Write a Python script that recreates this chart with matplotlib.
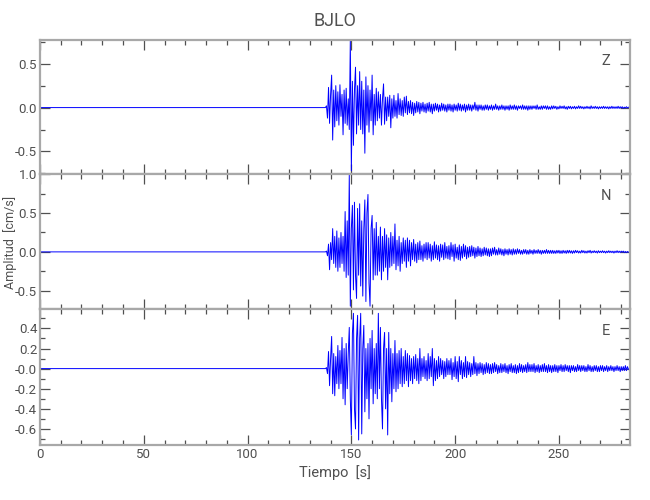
import numpy as np
import matplotlib
matplotlib.use('Agg')
import matplotlib.pyplot as plt
from matplotlib.ticker import MultipleLocator

plt.rcParams['font.family'] = ['Roboto', 'DejaVu Sans']

# station / components
station = 'BJLO'
components = ['Z', 'N', 'E']

# traces: flat until t0, then one value every dt seconds
t0 = 137.0
dt = 0.5
t_end = 284.0

z_amp = [
    0, 0, 0.02, -0.12, 0.23, -0.18, 0.15, 0.37, -0.37, 0.2, -0.22, 0.25, -0.15, 0.18, -0.2, 0.26, -0.1, 0.15, -0.31, 0.2,
    -0.18, 0.22, -0.2, 0.1, -0.25, 0.77, -0.72, 0.3, -0.43, 0.2, 0.46, -0.3, 0.25, -0.2, 0.41, -0.25, 0.3, -0.3, 0.2, -0.52,
    0.35, -0.2, 0.25, -0.28, 0.2, -0.15, 0.37, -0.31, 0.15, -0.2, 0.22, -0.15, 0.18, -0.12, 0.15, -0.2, 0.1, 0.27, -0.19, 0.12,
    -0.15, 0.12, -0.1, 0.14, -0.23, 0.1, -0.12, 0.14, -0.1, 0.08, -0.12, 0.16, -0.08, 0.1, -0.09, 0.08, -0.1, 0.12, -0.06, 0.13,
    -0.08, 0.07, -0.06, 0.08, -0.07, 0.06, -0.09, 0.05, -0.06, 0.07, -0.05, 0.06, -0.07, 0.05, -0.04, 0.06, -0.05, 0.04, -0.06, 0.05,
    -0.04, 0.06, -0.05, 0.04, -0.07, 0.04, -0.04, 0.05, -0.03, 0.04, -0.05, 0.03, -0.04, 0.05, -0.03, 0.04, -0.04, 0.03, -0.05, 0.04,
    -0.03, 0.04, -0.04, 0.03, -0.05, 0.04, -0.03, 0.03, -0.04, 0.05, -0.03, 0.04, -0.04, 0.03, -0.03, 0.04, -0.05, 0.03, -0.03, 0.04,
    -0.03, 0.03, -0.04, 0.03, -0.02, 0.06, -0.03, 0.03, -0.04, 0.03, -0.02, 0.03, -0.03, 0.02, -0.03, 0.03, -0.02, 0.03, -0.03, 0.02,
    -0.02, 0.03, -0.03, 0.02, -0.02, 0.04, -0.02, 0.02, -0.03, 0.02, -0.02, 0.03, -0.02, 0.02, -0.03, 0.02, -0.02, 0.02, -0.03, 0.03,
    -0.02, 0.02, -0.02, 0.03, -0.02, 0.02, -0.03, 0.02, -0.01, 0.02, -0.02, 0.03, -0.02, 0.02, -0.02, 0.02, -0.03, 0.02, -0.02, 0.02,
    -0.02, 0.02, -0.01, 0.02, -0.02, 0.03, -0.02, 0.01, -0.02, 0.02, -0.02, 0.02, -0.01, 0.02, -0.02, 0.02, -0.02, 0.01, -0.02, 0.02,
    -0.015, 0.02, -0.01, 0.015, -0.02, 0.01, -0.015, 0.02, -0.01, 0.015, -0.01, 0.02, -0.015, 0.01, -0.02, 0.015, -0.01, 0.015, -0.015, 0.01,
    -0.01, 0.015, -0.015, 0.01, -0.01, 0.02, -0.01, 0.015, -0.01, 0.01, -0.015, 0.01, -0.01, 0.015, -0.01, 0.01, -0.015, 0.02, -0.01, 0.01,
    -0.01, 0.015, -0.01, 0.01, -0.015, 0.01, -0.01, 0.01, -0.01, 0.015, -0.01, 0.01, -0.01, 0.01, -0.015, 0.01, -0.01, 0.015, -0.01, 0.01,
    -0.01, 0.01, -0.01, 0.015, -0.01, 0.01, -0.005, 0.01, -0.01, 0.005, -0.005, 0.01, -0.005, 0.005, 0,
]

n_amp = [
    0, 0, 0.01, -0.05, 0.1, -0.23, 0.12, -0.1, 0.3, -0.15, 0.2, -0.2, 0.27, -0.25, 0.18, -0.2, 0.25, -0.15, 0.2, -0.25,
    0.52, -0.33, 0.4, -0.3, 0.99, -0.70, 0.3, 0.6, -0.49, 0.64, -0.3, -0.6, 0.56, -0.3, 0.62, -0.44, 0.4, -0.57, 0.3, 0.67,
    -0.64, 0.5, 0.74, -0.4, -0.70, 0.3, 0.47, -0.36, 0.3, -0.3, 0.38, -0.3, 0.2, -0.25, 0.32, -0.36, 0.2, -0.25, 0.3, -0.2,
    0.22, -0.36, 0.18, -0.2, 0.25, -0.18, 0.2, -0.15, 0.36, -0.23, 0.15, -0.18, 0.2, -0.25, 0.12, -0.15, 0.18, -0.12, 0.15, -0.2,
    0.18, -0.12, 0.15, -0.18, 0.12, -0.1, 0.16, -0.12, 0.1, -0.14, 0.12, -0.1, 0.14, -0.1, 0.08, -0.12, 0.1, -0.08, 0.12, -0.1,
    0.12, -0.08, 0.1, -0.12, 0.08, -0.1, 0.13, -0.08, 0.09, -0.1, 0.08, -0.12, 0.1, -0.07, 0.09, -0.1, 0.12, -0.08, 0.07, -0.09,
    0.08, -0.1, 0.12, -0.06, 0.09, -0.12, 0.1, -0.08, 0.06, -0.1, 0.09, -0.11, 0.07, -0.08, 0.1, -0.06, 0.08, -0.09, 0.06, -0.07,
    0.07, -0.06, 0.08, -0.05, 0.06, -0.08, 0.05, -0.06, 0.07, -0.05, 0.05, -0.06, 0.04, -0.05, 0.06, -0.04, 0.05, -0.05, 0.04, -0.06,
    0.04, -0.05, 0.05, -0.03, 0.06, -0.04, 0.03, -0.04, 0.05, -0.03, 0.04, -0.04, 0.03, -0.05, 0.04, -0.03, 0.03, -0.04, 0.04, -0.03,
    0.03, -0.04, 0.04, -0.03, 0.03, -0.03, 0.04, -0.02, 0.03, -0.03, 0.02, -0.03, 0.03, -0.02, 0.03, -0.03, 0.02, -0.03, 0.03, -0.02,
    0.02, -0.03, 0.03, -0.02, 0.02, -0.02, 0.03, -0.02, 0.02, -0.03, 0.02, -0.02, 0.02, -0.02, 0.03, -0.02, 0.02, -0.02, 0.02, -0.02,
    0.02, -0.02, 0.015, -0.02, 0.02, -0.015, 0.02, -0.02, 0.015, -0.02, 0.02, -0.015, 0.015, -0.02, 0.02, -0.015, 0.02, -0.015, 0.015, -0.02,
    0.015, -0.015, 0.02, -0.01, 0.015, -0.015, 0.01, -0.015, 0.02, -0.01, 0.015, -0.015, 0.01, -0.015, 0.015, -0.01, 0.02, -0.015, 0.01, -0.01,
    0.015, -0.01, 0.01, -0.015, 0.015, -0.01, 0.01, -0.01, 0.015, -0.01, 0.01, -0.015, 0.01, -0.01, 0.015, -0.01, 0.01, -0.01, 0.01, -0.015,
    0.01, -0.01, 0.015, -0.01, 0.01, -0.01, 0.01, -0.005, 0.01, -0.01, 0.005, -0.01, 0.005, -0.005, 0,
]

e_amp = [
    0, 0, 0.01, -0.05, 0.17, -0.17, 0.1, 0.32, -0.25, 0.15, -0.27, 0.12, -0.15, 0.23, -0.2, 0.18, -0.15, 0.31, -0.3, 0.2,
    -0.36, 0.25, -0.2, 0.15, 0.41, -0.3, -0.66, 0.35, 0.55, -0.4, -0.6, 0.3, 0.53, -0.71, 0.3, 0.55, -0.65, 0.2, 0.43, -0.43,
    0.2, -0.3, 0.25, -0.5, 0.3, -0.2, 0.38, -0.35, 0.2, -0.25, 0.25, -0.3, 0.55, -0.2, 0.41, -0.3, -0.6, 0.2, 0.36, -0.4,
    0.2, -0.66, 0.36, -0.25, 0.2, -0.33, 0.15, -0.2, 0.28, -0.23, 0.15, -0.2, 0.18, -0.15, 0.2, -0.18, 0.12, -0.15, 0.18, -0.12,
    0.15, -0.18, 0.13, -0.12, 0.1, -0.15, 0.12, -0.1, 0.14, -0.12, 0.1, -0.15, 0.2, -0.12, 0.1, -0.08, 0.12, -0.1, 0.08, -0.12,
    0.15, -0.1, 0.12, -0.08, 0.2, -0.17, 0.1, -0.12, 0.08, -0.1, 0.12, -0.08, 0.1, -0.06, 0.08, -0.1, 0.07, -0.08, 0.1, -0.06,
    0.08, -0.06, 0.1, -0.11, 0.06, -0.08, 0.12, -0.1, 0.07, -0.13, 0.12, -0.06, 0.08, -0.1, 0.06, -0.08, 0.12, -0.09, 0.07, -0.06,
    0.06, -0.08, 0.05, -0.06, 0.12, -0.05, 0.06, -0.07, 0.05, -0.05, 0.06, -0.04, 0.05, -0.06, 0.04, -0.05, 0.06, -0.04, 0.05, -0.05,
    0.04, -0.05, 0.05, -0.04, 0.06, -0.03, 0.04, -0.05, 0.03, -0.04, 0.05, -0.04, 0.04, -0.03, 0.05, -0.04, 0.03, -0.05, 0.04, -0.03,
    0.05, -0.04, 0.03, -0.04, 0.04, -0.05, 0.03, -0.04, 0.05, -0.03, 0.04, -0.04, 0.03, -0.03, 0.04, -0.04, 0.06, -0.03, 0.04, -0.03,
    0.04, -0.03, 0.05, -0.04, 0.03, -0.03, 0.04, -0.04, 0.03, -0.03, 0.04, -0.03, 0.05, -0.03, 0.03, -0.04, 0.04, -0.03, 0.03, -0.04,
    0.03, -0.03, 0.04, -0.03, 0.03, -0.04, 0.03, -0.02, 0.04, -0.03, 0.03, -0.03, 0.04, -0.02, 0.03, -0.03, 0.03, -0.04, 0.03, -0.02,
    0.03, -0.03, 0.02, -0.03, 0.04, -0.02, 0.03, -0.03, 0.03, -0.02, 0.03, -0.03, 0.02, -0.03, 0.04, -0.02, 0.03, -0.03, 0.02, -0.03,
    0.03, -0.02, 0.03, -0.03, 0.02, -0.03, 0.03, -0.02, 0.03, -0.03, 0.02, -0.02, 0.03, -0.03, 0.02, -0.02, 0.03, -0.02, 0.02, -0.03,
    0.02, -0.02, 0.03, -0.02, 0.02, -0.03, 0.02, -0.02, 0.02, -0.02, 0.03, -0.02, 0.02, -0.01, 0,
]

# axis limits and tick labels per panel
ylims = [(-0.76, 0.77), (-0.74, 1.0), (-0.76, 0.59)]
yticks = [[-0.5, 0.0, 0.5], [-0.5, 0.0, 0.5, 1.0], [-0.6, -0.4, -0.2, 0.0, 0.2, 0.4]]
yticklabels = [['-0.5', '0.0', '0.5'], ['-0.5', '0.0', '0.5', '1.0'],
               ['-0.6', '-0.4', '-0.2', '-0.0', '0.2', '0.4']]
yminor = [0.25, 0.25, 0.1]
xticks = [0, 50, 100, 150, 200, 250]

traces = [z_amp, n_amp, e_amp]

fig = plt.figure(figsize=(6.5, 5), dpi=100)
left, width = 0.0615, 0.907
boxes = [(0.6514, 0.2686), (0.3814, 0.2700), (0.110, 0.2714)]

spine_col = '#a8a8a8'
tick_col = '#505050'
text_col = '#505050'

for i, amp in enumerate(traces):
    ax = fig.add_axes([left, boxes[i][0], width, boxes[i][1]])
    t = t0 + dt * np.arange(len(amp))
    tt = np.concatenate([[0.0], t])
    yy = np.concatenate([[0.0], np.array(amp)])
    ax.plot(tt, yy, color='#0000ff', lw=0.7)

    ax.set_xlim(0, t_end)
    ax.set_ylim(*ylims[i])
    ax.set_xticks(xticks)
    ax.xaxis.set_minor_locator(MultipleLocator(10))
    ax.set_yticks(yticks[i])
    ax.set_yticklabels(yticklabels[i])
    ax.yaxis.set_minor_locator(MultipleLocator(yminor[i]))
    ax.tick_params(which='both', direction='in', top=True, right=True,
                   color=tick_col, labelcolor=text_col, labelsize=9.5, width=0.9, pad=2)
    ax.tick_params(which='major', length=7)
    ax.tick_params(which='minor', length=3.5)
    if i < 2:
        ax.tick_params(labelbottom=False)
    else:
        ax.set_xticklabels([str(v) for v in xticks])
        ax.set_xlabel('Tiempo  [s]', color=text_col, fontsize=10.5, labelpad=3)
    for s in ax.spines.values():
        s.set_color(spine_col)
        s.set_linewidth(1.6)
    ax.text(0.96, 0.84, components[i], transform=ax.transAxes, ha='center',
            va='center', color=text_col, fontsize=10.5)

fig.text(0.015, 1 - 242 / 500, 'Amplitud  [cm/s]', rotation=90,
         ha='center', va='center', color=text_col, fontsize=9)
fig.text(0.515, 1 - 21 / 500, station, ha='center', va='center',
         color=text_col, fontsize=13)

fig.savefig('out.png', dpi=100)
